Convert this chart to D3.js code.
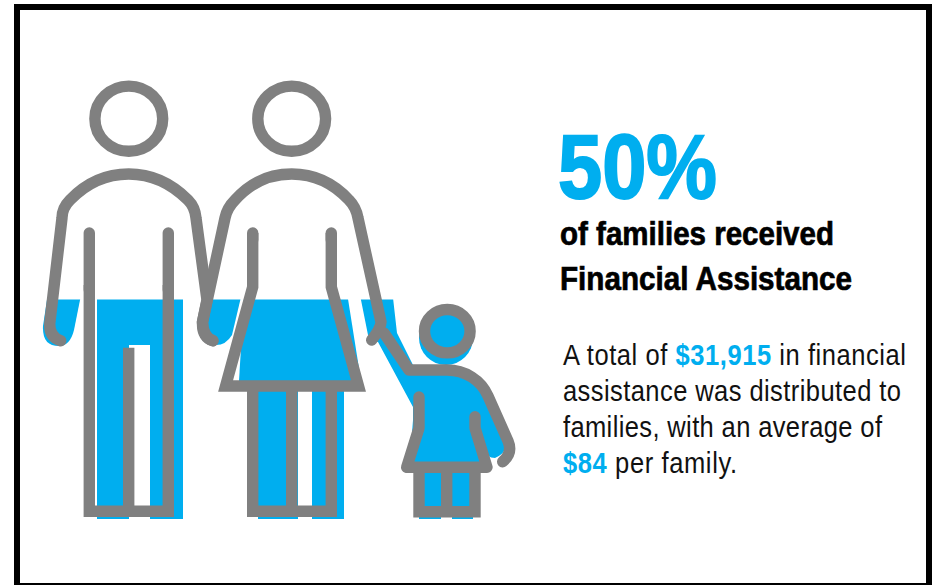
<!DOCTYPE html>
<html>
<head>
<meta charset="utf-8">
<script src="https://cdn.jsdelivr.net/npm/d3@7"></script>
<style>
html,body{margin:0;padding:0;background:#fff}
svg{display:block}
</style>
</head>
<body>
<svg id="chart" width="936" height="585"></svg>
<script>
// Share of families helped, which sets the fill level of the family icon
const sharePercent = [50];
const figureScale = [0, 100];

const headline = ["of families received", "Financial Assistance"];
const bodyLines = [
  [["A total of ", 0], ["$31,915", 1], [" in financial", 0]],
  [["assistance was distributed to", 0]],
  [["families, with an average of", 0]],
  [["$84", 1], [" per family.", 0]]
];

const BLUE = "#00aeef", GREY = "#808080";
const svg = d3.select("#chart");

// Outer frame
svg.append("path")
  .attr("fill", "#000").attr("fill-rule", "evenodd")
  .attr("d", "M14 4H932V585H14Z M20 10H926V583H20Z");

// Water level: 0% at the feet of the icon, 100% at the top of the heads
const level = d3.scaleLinear().domain(figureScale).range([519, 80]);

svg.append("clipPath").attr("id", "below-level")
  .append("rect")
  .attr("x", 0).attr("width", 936)
  .attr("y", level(sharePercent[0]))
  .attr("height", 585 - level(sharePercent[0]));

// Filled silhouette shapes, sitting slightly off the outline
const fillShapes = [
  // man: left hand, body with trouser gap, right hand
  "M50 280H84L74 330Q70 346 59 346Q42 346 43 326Z",
  "M97 280H183V519H150V345H129V519H97Z",
  "M205 280H245L232 335Q226 345 216 345Q198 345 198 325Z",
  // woman: skirt and legs
  "M245 280H345L361 381H239Z",
  "M258 391H344V519H312V391H298V519H258Z",
  // woman's far hand running into the child's raised arm
  "M357 280H391L397 333L413 365V407L378 342Q372 342 368 335Z",
  // child: torso, skirt and arm
  "M413 366H447Q478 366 488 395L505 435Q510 452 495 458Q487 458 482 448L470 425L485 473H409L413 420Z",
  "M419 473H441V519H419Z",
  "M452 473H473V519H452Z"
];
const fillCircles = [[446, 338, 27]];

const fillLayer = svg.append("g").attr("clip-path", "url(#below-level)").attr("fill", BLUE);
fillLayer.selectAll("path").data(fillShapes).join("path").attr("d", d => d);
fillLayer.selectAll("circle").data(fillCircles).join("circle")
  .attr("cx", d => d[0]).attr("cy", d => d[1]).attr("r", d => d[2]);

// Grey outlines drawn over the fill
const lineLayer = svg.append("g")
  .attr("fill", "none").attr("stroke", GREY).attr("stroke-width", 11.4);

const heads = [[128.8, 118.7, 33.9, 32.6], [291.7, 118.7, 33.9, 32.6], [447.3, 331.2, 22.8, 21.7]];
lineLayer.selectAll("ellipse").data(heads).join("ellipse")
  .attr("cx", d => d[0]).attr("cy", d => d[1]).attr("rx", d => d[2]).attr("ry", d => d[3]);

const roundStrokes = [
  // man: arms and shoulders
  "M60.7 340.7Q49 337 49.8 323L62 218Q62 208 70 200Q95 174 128.7 174Q162 174 188 200Q195 207 196 218L207 300L202.5 322Q203 337 213 340.7",
  "M89.3 233V290", "M168.3 233V290",
  // woman: arms and shoulders, then the linked hand
  "M212.7 340.7Q202 337 202.5 322L225 218Q227 208 235 200Q258 174 291.7 174Q325 174 349 200Q356 207 358 218L381 322Q381 328 371.7 340",
  // child's raised arm, shoulder and hooked hand
  "M384 333L409 370H447C465 370 481 380 488 396L508 441Q513 453 502.7 461.7",
  // child's dress
  "M419 397V428L406.7 467.3H487L475 428V416.7"
];
lineLayer.append("g").attr("stroke-linecap", "round").attr("stroke-linejoin", "round")
  .selectAll("path").data(roundStrokes).join("path").attr("d", d => d);

const squareStrokes = [
  // man: legs
  "M89.3 285V511.3H168.3V285", "M128.7 347.7V511.3",
  // woman: skirt and legs
  "M252.7 233V287L225.6 386H358.5L331.3 287V233",
  "M252.7 386V511.3H331.3V386", "M291.7 386V511.3",
  // child: legs
  "M419 467V511.7H475V467", "M446.7 467V511.7"
];
lineLayer.append("g").attr("stroke-linecap", "butt").attr("stroke-linejoin", "miter").attr("stroke-miterlimit", 10)
  .selectAll("path").data(squareStrokes).join("path").attr("d", d => d);
// Top ends of the woman's arms are rounded where they start
lineLayer.append("g").attr("stroke-linecap", "round")
  .selectAll("path").data(["M252.7 233V240", "M331.3 233V240"]).join("path").attr("d", d => d);

// Text block: the sans face is drawn condensed to suit the tall letterforms
const FACE = "'Liberation Sans',sans-serif";
const BODY_SQUEEZE = 0.88;

svg.append("text")
  .attr("x", 558).attr("y", 198)
  .attr("font-family", FACE).attr("font-weight", 700)
  .attr("font-size", 91).attr("fill", BLUE)
  .attr("stroke", BLUE).attr("stroke-width", 2)
  .attr("textLength", 159).attr("lengthAdjust", "spacingAndGlyphs")
  .text(sharePercent[0] + "%");

svg.selectAll("text.headline").data(headline).join("text")
  .attr("class", "headline")
  .attr("x", 560).attr("y", (d, i) => 245 + i * 45)
  .attr("font-family", FACE).attr("font-weight", 700)
  .attr("font-size", 33.5).attr("fill", "#000")
  .attr("stroke", "#000").attr("stroke-width", 0.7)
  .attr("textLength", (d, i) => [274, 292][i]).attr("lengthAdjust", "spacingAndGlyphs")
  .text(d => d);

svg.append("g").selectAll("text").data(bodyLines).join("text")
  .attr("transform", (d, i) => `translate(563,${365 + i * 36}) scale(${BODY_SQUEEZE},1)`)
  .attr("font-family", FACE).attr("font-size", 29).attr("fill", "#111")
  .attr("textLength", (d, i) => [343 / BODY_SQUEEZE, 338 / BODY_SQUEEZE, 319 / BODY_SQUEEZE, 174 / BODY_SQUEEZE][i])
  .attr("lengthAdjust", "spacing")
  .selectAll("tspan").data(d => d).join("tspan")
  .attr("fill", d => d[1] ? BLUE : null)
  .attr("font-weight", d => d[1] ? 700 : null)
  .text(d => d[0]);
</script>
</body>
</html>
